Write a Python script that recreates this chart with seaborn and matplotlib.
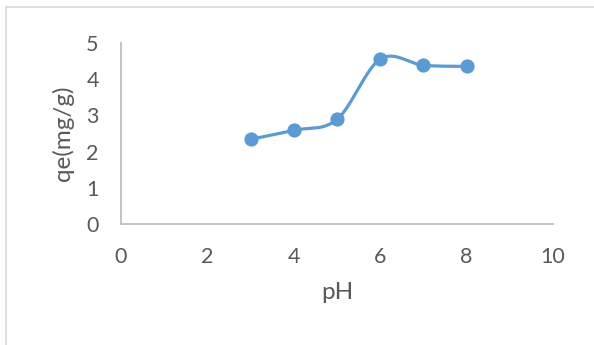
import numpy as np
import pandas as pd
import matplotlib
matplotlib.use("Agg")
import matplotlib.pyplot as plt
from matplotlib.lines import Line2D
import seaborn as sns

# Adsorption capacity versus solution pH
ph = [3, 4, 5, 6, 7, 8]
qe = [2.34, 2.59, 2.89, 4.55, 4.38, 4.35]
x_ticks = [0, 2, 4, 6, 8, 10]
y_ticks = [0, 1, 2, 3, 4, 5]

LINE = "#5B9BD5"
TEXT = "#595959"
AXIS = "#BFBFBF"


def smooth_curve(xs, ys, steps=40):
    """Catmull-Rom style Bezier smoothing through every point."""
    p = np.column_stack([xs, ys]).astype(float)
    n = len(p)
    out = []
    t = np.linspace(0, 1, steps)[:, None]
    for i in range(n - 1):
        p0 = p[i - 1] if i > 0 else p[i]
        p3 = p[i + 2] if i + 2 < n else p[i + 1]
        b0, b3 = p[i], p[i + 1]
        b1 = b0 + (b3 - p0) / 6.0
        b2 = b3 - (p3 - b0) / 6.0
        seg = ((1 - t) ** 3) * b0 + 3 * ((1 - t) ** 2) * t * b1 \
            + 3 * (1 - t) * t ** 2 * b2 + t ** 3 * b3
        out.append(seg if i == 0 else seg[1:])
    c = np.vstack(out)
    return c[:, 0], c[:, 1]


sns.set_theme(style="white")
plt.rcParams["font.family"] = ["Lato", "DejaVu Sans"]

fig = plt.figure(figsize=(5.94, 3.45), dpi=100)
W, H = 594, 345
ax = fig.add_axes([121 / W, 1 - 224.3 / H, 432 / W, 181.5 / H])

sx, sy = smooth_curve(ph, qe)
curve = pd.DataFrame({"pH": sx, "qe": sy})
points = pd.DataFrame({"pH": ph, "qe": qe})

sns.lineplot(data=curve, x="pH", y="qe", ax=ax, color=LINE, linewidth=2.3,
             sort=False, estimator=None)
sns.scatterplot(data=points, x="pH", y="qe", ax=ax, color=LINE, s=105,
                edgecolor=LINE, linewidth=0, zorder=3)

ax.set_xlim(0, 10)
ax.set_ylim(0, 5)
ax.set_xticks(x_ticks)
ax.set_yticks(y_ticks)
ax.set_xticklabels([str(v) for v in x_ticks])
ax.set_yticklabels([str(v) for v in y_ticks])
ax.tick_params(axis="both", length=0, labelsize=15.5, labelcolor=TEXT)
ax.tick_params(axis="x", pad=16)
ax.tick_params(axis="y", pad=16)

for side in ("top", "right"):
    ax.spines[side].set_visible(False)
for side in ("left", "bottom"):
    ax.spines[side].set_color(AXIS)
    ax.spines[side].set_linewidth(1.3)

ax.set_xlabel("pH", fontsize=17.5, color=TEXT)
ax.set_ylabel("qe(mg/g)", fontsize=17.5, color=TEXT)
ax.xaxis.set_label_coords(0.5, -0.32)
ax.yaxis.set_label_coords(-0.108, 0.5)
ax.grid(False)

# Chart-area frame (top and left edges)
frame_col = "#D9D9D9"
fig.add_artist(Line2D([6 / W, 1.0], [1 - 7 / H, 1 - 7 / H],
                      transform=fig.transFigure, color=frame_col, linewidth=1.2))
fig.add_artist(Line2D([6 / W, 6 / W], [0.0, 1 - 7 / H],
                      transform=fig.transFigure, color=frame_col, linewidth=1.2))

fig.savefig("out.png", dpi=100, facecolor="white")
